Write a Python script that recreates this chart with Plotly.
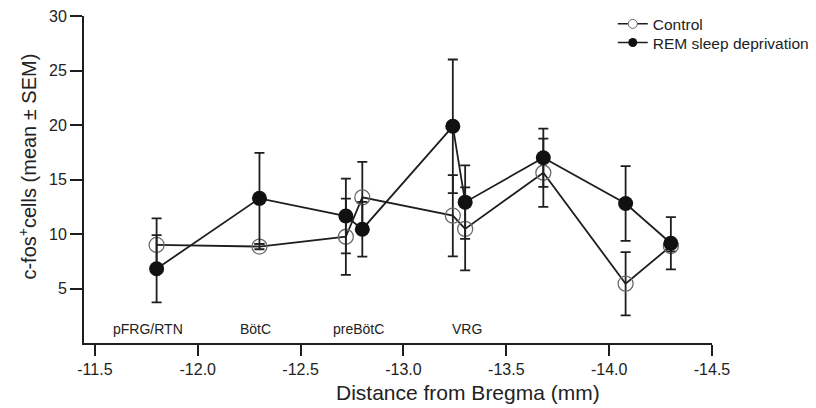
import plotly.graph_objects as go

# Distance from Bregma (mm) for each sampled level
distance = [-11.80, -12.30, -12.72, -12.80, -13.24, -13.30, -13.68, -14.08, -14.30]

control_mean = [9.00, 8.85, 9.75, 13.36, 11.68, 10.47, 15.62, 5.44, 8.90]
control_sem = [2.44, 0.25, 3.50, 3.26, 3.73, 3.80, 3.13, 2.90, 0.50]

rem_mean = [6.81, 13.27, 11.65, 10.44, 19.88, 12.92, 17.00, 12.80, 9.15]
rem_sem = [3.08, 4.17, 3.43, 2.51, 6.13, 3.37, 2.67, 3.43, 2.40]

region_labels = ["pFRG/RTN", "BötC", "preBötC", "VRG"]
region_pos = [-11.76, -12.28, -12.78, -13.31]
region_y = 1.33

x_ticks = [-11.5, -12.0, -12.5, -13.0, -13.5, -14.0, -14.5]
x_ticktext = ["-11.5", "-12.0", "-12.5", "-13.0", "-13.5", "-14.0", "-14.5"]
y_ticks = [5, 10, 15, 20, 25, 30]

FONT = "Liberation Sans, Arial, Helvetica, sans-serif"
INK = "#1e1e1e"

fig = go.Figure()

fig.add_trace(go.Scatter(
    x=distance, y=control_mean, mode="lines+markers", name="Control",
    showlegend=False,
    line=dict(color=INK, width=1.8),
    marker=dict(symbol="circle-open", size=15, color="#6a6a6a", line=dict(width=1.3, color="#6a6a6a")),
    error_y=dict(type="data", array=control_sem, visible=True, color=INK, thickness=1.8, width=5),
))
fig.add_trace(go.Scatter(
    x=distance, y=rem_mean, mode="lines+markers", name="REM sleep deprivation",
    showlegend=False,
    line=dict(color=INK, width=1.8),
    marker=dict(symbol="circle", size=15, color="#111111"),
    error_y=dict(type="data", array=rem_sem, visible=True, color=INK, thickness=1.8, width=5),
))

# legend entries (smaller markers, as in the reference legend)
fig.add_trace(go.Scatter(
    x=[None], y=[None], mode="lines+markers", name="Control", legend="legend",
    line=dict(color=INK, width=1.5),
    marker=dict(symbol="circle", size=9, color="white", line=dict(width=1, color="#6a6a6a")),
))
fig.add_trace(go.Scatter(
    x=[None], y=[None], mode="lines+markers", name="REM sleep deprivation", legend="legend2",
    line=dict(color=INK, width=1.5),
    marker=dict(symbol="circle", size=9, color="#111111"),
))

for lab, pos in zip(region_labels, region_pos):
    fig.add_annotation(x=pos, y=region_y, xref="x", yref="y", text=lab, showarrow=False,
                       font=dict(family=FONT, size=14, color="#222"), xanchor="center", yanchor="middle")

fig.add_annotation(x=0.6107, y=-0.1528, xref="paper", yref="paper",
                   text="Distance from Bregma (mm)", showarrow=False,
                   font=dict(family=FONT, size=21, color="#222"), xanchor="center", yanchor="middle")
fig.add_annotation(x=-0.0895, y=0.539, xref="paper", yref="paper",
                   text="c-fos<sup>+</sup>cells (mean ± SEM)", showarrow=False, textangle=-90,
                   font=dict(family=FONT, size=20, color="#222"), xanchor="center", yanchor="middle")

legend_common = dict(xanchor="left", yanchor="middle", bgcolor="rgba(0,0,0,0)",
                     font=dict(family=FONT, size=15.5, color="#222"), itemwidth=30)

# the page body adds an 8 px offset, so the figure margins are shifted by -8 px
fig.update_layout(
    width=816, height=408,
    margin=dict(l=76, r=112, t=7.7, b=73, autoexpand=False),
    paper_bgcolor="white", plot_bgcolor="white",
    font=dict(family=FONT, size=16, color="#222"),
    legend=dict(x=0.842, y=0.9747, **legend_common),
    legend2=dict(x=0.842, y=0.9175, **legend_common),
    xaxis=dict(range=[-11.447, -14.5], tickvals=x_ticks, ticktext=x_ticktext, automargin=False,
               showline=True, linecolor=INK, linewidth=2, ticks="outside", ticklen=11,
               tickwidth=2, tickcolor=INK, showgrid=False, zeroline=False,
               ticklabeloverflow="allow",
               tickfont=dict(family=FONT, size=16, color="#222")),
    yaxis=dict(range=[0, 30], tickvals=y_ticks, automargin=False,
               showline=True, linecolor=INK, linewidth=2, ticks="outside", ticklen=12,
               tickwidth=2, tickcolor=INK, showgrid=False, zeroline=False,
               ticklabeloverflow="allow",
               tickfont=dict(family=FONT, size=16, color="#222")),
)

fig.write_html("out.html")
